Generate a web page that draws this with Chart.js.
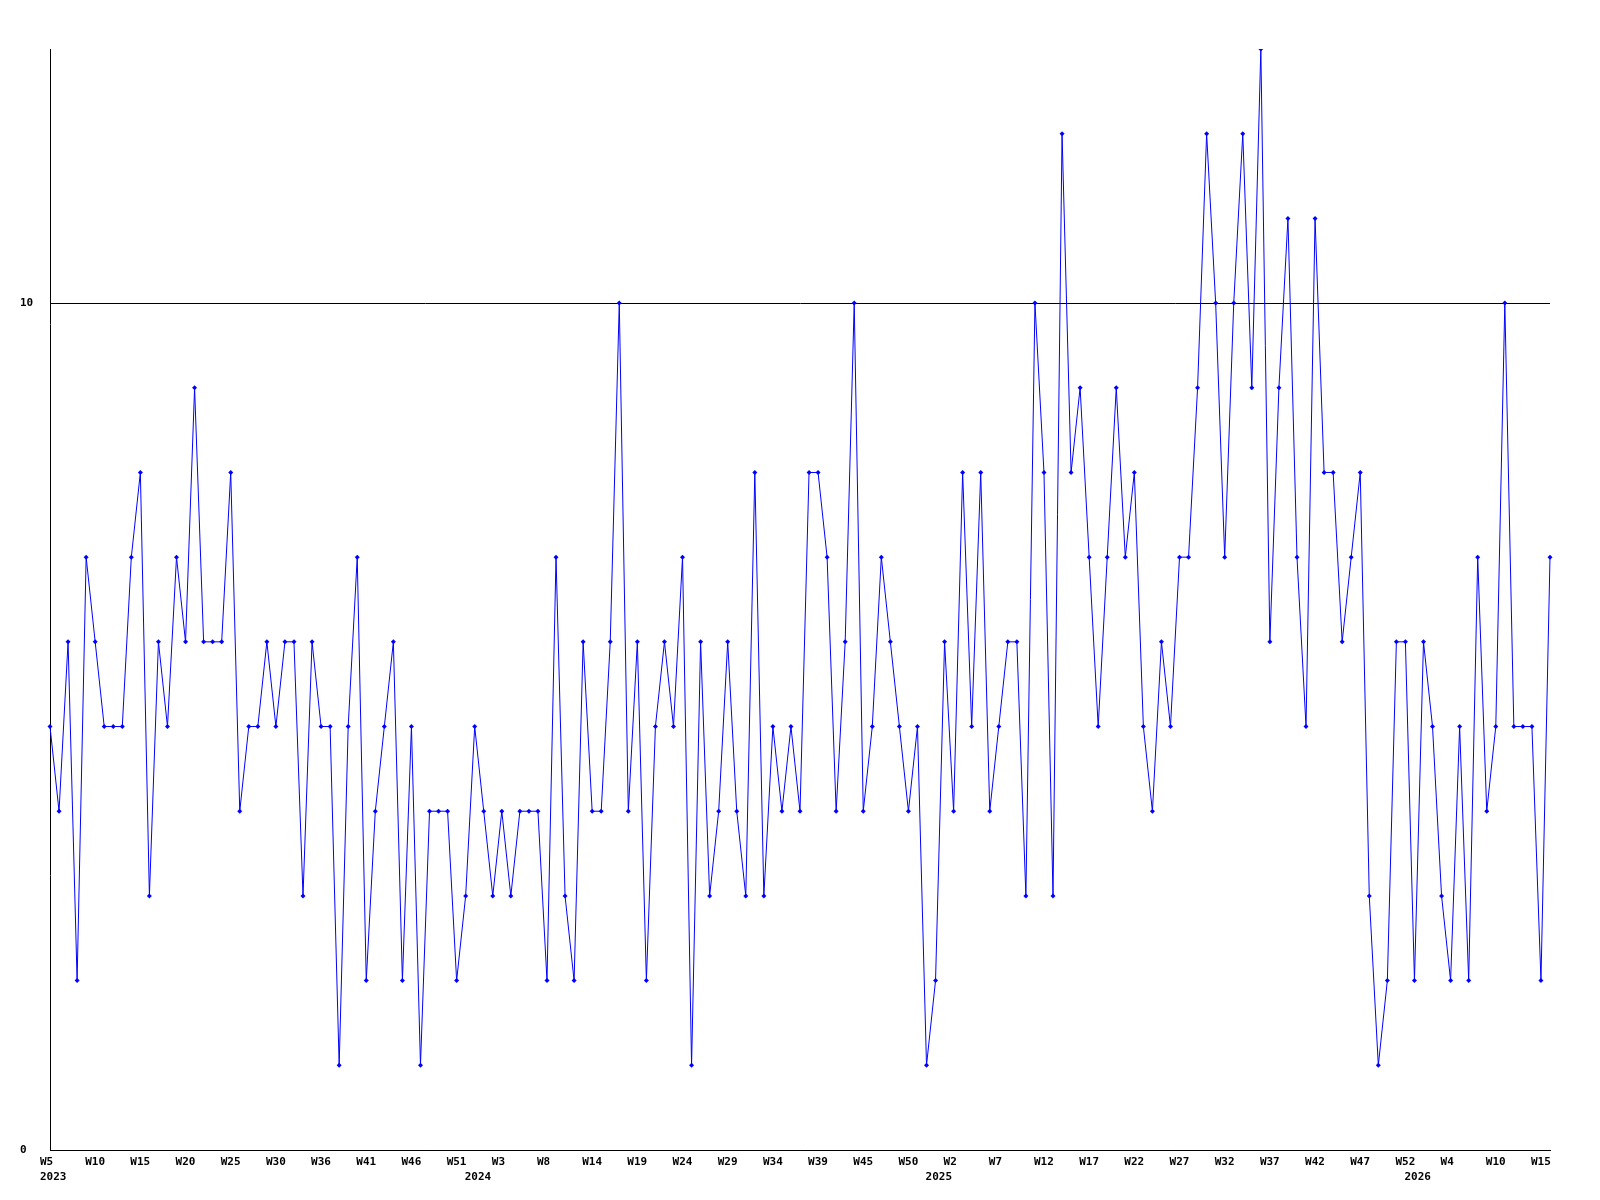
<!DOCTYPE html>
<html>
<head>
<meta charset="utf-8">
<script src="https://cdn.jsdelivr.net/npm/chart.js@4/dist/chart.umd.min.js"></script>
<style>
  body { margin: 0; background: #fff; }
  #chart { display: block; }
</style>
</head>
<body>
<canvas id="chart" width="1600" height="1200"></canvas>
<script>
// weekly counts, 2023 W5 .. 2026 W15
const counts = [
    5, 4, 6, 2, 7, 6, 5, 5, 5, 7, 8, 3, 6, 5, 7, 6, 9, 6, 6, 6, 8, 4,
    5, 5, 6, 5, 6, 6, 3, 6, 5, 5, 1, 5, 7, 2, 4, 5, 6, 2, 5, 1, 4,
    4, 4, 2, 3, 5, 4, 3, 4, 3, 4, 4, 4, 2, 7, 3, 2, 6, 4, 4, 6, 10,
    4, 6, 2, 5, 6, 5, 7, 1, 6, 3, 4, 6, 4, 3, 8, 3, 5, 4, 5, 4, 8,
    8, 7, 4, 6, 10, 4, 5, 7, 6, 5, 4, 5, 1, 2, 6, 4, 8, 5, 8, 4, 5,
    6, 6, 3, 10, 8, 3, 12, 8, 9, 7, 5, 7, 9, 7, 8, 5, 4, 6, 5, 7, 7,
    9, 12, 10, 7, 10, 12, 9, 13, 6, 9, 11, 7, 5, 11, 8, 8, 6, 7, 8, 3, 1,
    2, 6, 6, 2, 6, 5, 3, 2, 5, 2, 7, 4, 5, 10, 5, 5, 5, 2, 7
];

// labels shown under every 5th point
const weekTicks = [
    'W5', 'W10', 'W15', 'W20', 'W25', 'W30', 'W36', 'W41', 'W46', 'W51',
    'W3', 'W8', 'W14', 'W19', 'W24', 'W29', 'W34', 'W39', 'W45', 'W50',
    'W2', 'W7', 'W12', 'W17', 'W22', 'W27', 'W32', 'W37', 'W42', 'W47',
    'W52', 'W4', 'W10', 'W15'
];
const tickEvery = 5;

const years = ['2023', '2024', '2025', '2026'];
const yearTickIndex = [0, 47, 98, 151];

const yTicks = [0, 10];
const yMax = 13;

const labels = counts.map((_, i) => i);

function tickLabel(i) {
    const first = (i % tickEvery === 0 && weekTicks[i / tickEvery]) ? weekTicks[i / tickEvery] : '';
    const y = yearTickIndex.indexOf(i);
    if (y >= 0) return [first, years[y]];
    return first;
}

const tickFont = { family: '"DejaVu Sans Mono", monospace', size: 11, weight: 'bold', lineHeight: 1.36 };

const ctx = document.getElementById('chart').getContext('2d');
new Chart(ctx, {
    type: 'line',
    data: {
        labels: labels,
        datasets: [{
            data: counts,
            borderColor: '#0000ff',
            backgroundColor: '#0000ff',
            borderWidth: 1,
            pointStyle: 'rectRot',
            pointRadius: 2.5,
            pointBorderWidth: 0,
            tension: 0,
            fill: false
        }]
    },
    options: {
        responsive: false,
        animation: false,
        layout: { padding: { left: 20, top: 49, right: 50, bottom: 0 } },
        plugins: {
            legend: { display: false },
            tooltip: { enabled: false }
        },
        scales: {
            x: {
                grid: { display: false, drawTicks: false },
                border: { color: '#000', width: 1 },
                ticks: {
                    autoSkip: false,
                    maxRotation: 0,
                    minRotation: 0,
                    align: 'start',
                    labelOffset: -10,
                    padding: 5,
                    color: '#000',
                    font: tickFont,
                    callback: (v, i) => tickLabel(i)
                },
                afterFit: s => { s.height = 50; }
            },
            y: {
                min: 0,
                max: yMax,
                afterBuildTicks: s => { s.ticks = yTicks.map(v => ({ value: v })); },
                grid: { color: '#000', drawTicks: false },
                border: { color: '#000', width: 1 },
                ticks: {
                    crossAlign: 'far',
                    padding: 0,
                    color: '#000',
                    font: tickFont
                },
                afterFit: s => { s.width = 30; }
            }
        }
    }
});
</script>
</body>
</html>
